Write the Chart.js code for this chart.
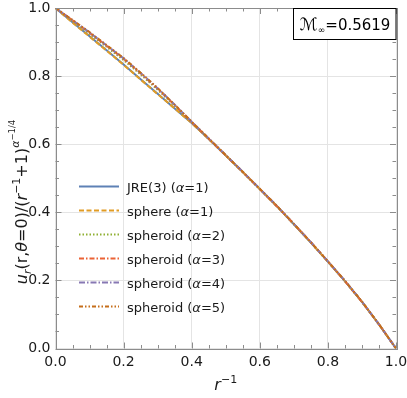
<!DOCTYPE html>
<html><head><meta charset="utf-8">
<script src="https://cdn.jsdelivr.net/npm/chart.js@4.4.1/dist/chart.umd.min.js"></script>
<style>html,body{margin:0;padding:0;background:#fff}#wrap{width:407px;height:398px}</style>
</head><body><div id="wrap"><canvas id="c" width="407" height="398"></canvas></div>
<script>
const xValues = [0,0.05,0.1,0.15,0.2,0.25,0.3,0.35,0.4,0.45,0.5,0.55,0.6,0.65,0.7,0.75,0.8,0.85,0.9,0.95,1.0];
const jre1     = [1,0.958,0.917,0.876,0.834,0.791,0.748,0.705,0.662,0.615,0.567,0.518,0.468,0.418,0.365,0.311,0.255,0.198,0.137,0.071,0];
const sphere1  = [1,0.957,0.916,0.875,0.833,0.790,0.747,0.705,0.662,0.615,0.567,0.518,0.468,0.418,0.365,0.311,0.255,0.198,0.137,0.071,0];
const spheroid2= [1,0.962,0.924,0.886,0.847,0.805,0.760,0.713,0.664,0.616,0.567,0.518,0.468,0.418,0.365,0.311,0.255,0.198,0.137,0.071,0];
const spheroid3= [1,0.964,0.927,0.889,0.851,0.808,0.763,0.715,0.665,0.616,0.567,0.518,0.468,0.418,0.366,0.312,0.256,0.198,0.137,0.071,0];
const spheroid4= [1,0.964,0.928,0.890,0.852,0.809,0.764,0.716,0.666,0.617,0.568,0.519,0.469,0.419,0.366,0.312,0.256,0.199,0.138,0.071,0];
const spheroid5= [1,0.965,0.929,0.891,0.853,0.810,0.765,0.716,0.666,0.617,0.568,0.519,0.469,0.419,0.366,0.312,0.256,0.199,0.138,0.071,0];
const xTicks = [0,0.2,0.4,0.6,0.8,1.0];
const yTicks = [0,0.2,0.4,0.6,0.8,1.0];
const machLabel = "0.5619";

const FONT = "'DejaVu Sans', sans-serif";
const series = [
  {name:[["JRE(3) (",0],["α",1],["=1)",0]], data:jre1, color:'#5E81B5', dash:[]},
  {name:[["sphere (",0],["α",1],["=1)",0]], data:sphere1, color:'#E19C24', dash:[5,2.5]},
  {name:[["spheroid (",0],["α",1],["=2)",0]], data:spheroid2, color:'#8FB032', dash:[1.5,2]},
  {name:[["spheroid (",0],["α",1],["=3)",0]], data:spheroid3, color:'#EB6235', dash:[5,2,1.5,2]},
  {name:[["spheroid (",0],["α",1],["=4)",0]], data:spheroid4, color:'#8778B3', dash:[6,2,1.5,2]},
  {name:[["spheroid (",0],["α",1],["=5)",0]], data:spheroid5, color:'#C56E1A', dash:[4,2,1.5,2,1.5,2]}
];

function drawRich(ctx, segs, x, y, align){
  let w = 0;
  for (const s of segs){ ctx.font = (s[1]?'italic ':'') + s[2]+'px '+FONT; w += ctx.measureText(s[0]).width; }
  let cx = align==='center' ? x - w/2 : x;
  ctx.textAlign='left'; ctx.textBaseline='alphabetic';
  for (const s of segs){ ctx.font = (s[1]?'italic ':'') + s[2]+'px '+FONT; ctx.fillText(s[0], cx, y + (s[3]||0)); cx += ctx.measureText(s[0]).width; }
}

const deco = {
  id:'deco',
  afterDraw(chart){
    const ctx = chart.ctx, a = chart.chartArea, xs = chart.scales.x, ys = chart.scales.y;
    ctx.save();
    ctx.strokeStyle='#8c8c8c'; ctx.lineWidth=1;
    ctx.strokeRect(Math.round(a.left)+0.5, Math.round(a.top)+0.5, Math.round(a.right-a.left), Math.round(a.bottom-a.top));
    for (let i=0;i<=20;i++){
      const v=i*0.05, major = (i%4===0), L = major?6:3.5;
      const px = Math.round(xs.getPixelForValue(v))+0.5, py = Math.round(ys.getPixelForValue(v))+0.5;
      ctx.beginPath();
      ctx.moveTo(px,a.bottom); ctx.lineTo(px,a.bottom-L);
      ctx.moveTo(px,a.top); ctx.lineTo(px,a.top+L);
      ctx.moveTo(a.left,py); ctx.lineTo(a.left+L,py);
      ctx.moveTo(a.right,py); ctx.lineTo(a.right-L,py);
      ctx.stroke();
    }
    ctx.fillStyle='#1a1a1a';
    drawRich(ctx, [["r",1,16,0],["−1",0,11,-7]], (a.left+a.right)/2, 390, 'center');
    ctx.save();
    ctx.translate(27, 202);
    ctx.rotate(-Math.PI/2);
    drawRich(ctx, [["u",1,16,0],["r",1,11,3.5],["(r,",0,16,0],["θ",1,16,0],["=0)/(",0,16,0],["r",1,16,0],["−1",0,11,-7],["+1)",0,16,0],["α",1,11,-8],["−1/4",0,8.5,-12.5]], 0, 0, 'center');
    ctx.restore();
    series.forEach((s,i)=>{
      const y = 186.5 + i*24;
      ctx.strokeStyle=s.color; ctx.lineWidth=1.8; ctx.setLineDash(s.dash);
      ctx.beginPath(); ctx.moveTo(79,y); ctx.lineTo(119,y); ctx.stroke();
      ctx.setLineDash([]);
      ctx.fillStyle='#1a1a1a';
      drawRich(ctx, s.name.map(p=>[p[0],p[1],13,0]), 127, y+5, 'left');
    });
    ctx.fillStyle='#fff'; ctx.fillRect(293.5,8.5,102.5,31);
    ctx.strokeStyle='#000'; ctx.lineWidth=1; ctx.strokeRect(293.5,8.5,102.5,31);
    ctx.fillStyle='#000';
    drawRich(ctx, [["ℳ",1,17,0],["∞",0,9,3],["="+machLabel,0,15,0]], 345, 30, 'center');
    ctx.restore();
  }
};

new Chart(document.getElementById('c'), {
  type:'line',
  data:{ datasets: series.map((s,i)=>({
    label: s.name.map(p=>p[0]).join(''),
    data: xValues.map((x,j)=>({x, y:s.data[j]})),
    order: series.length - i,
    borderColor:s.color, borderWidth:2, borderDash:s.dash, pointRadius:0, fill:false, tension:0
  }))},
  options:{
    responsive:false, animation:false, devicePixelRatio:1,
    layout:{padding:{top:8, right:11, left:0, bottom:0}},
    plugins:{legend:{display:false}, tooltip:{enabled:false}},
    scales:{
      x:{type:'linear', min:0, max:1,
        afterBuildTicks(s){ s.ticks = xTicks.map(v=>({value:v})); },
        afterFit(s){ s.height = 49.5; s.paddingLeft = 0; s.paddingRight = 0; },
        ticks:{ padding:5, color:'#1a1a1a', font:{family:FONT, size:14}, callback:v=>v.toFixed(1), maxRotation:0, autoSkip:false},
        grid:{ color:'#e4e4e4', drawTicks:false }, border:{display:false}},
      y:{type:'linear', min:0, max:1,
        afterBuildTicks(s){ s.ticks = yTicks.map(v=>({value:v})); },
        afterFit(s){ s.width = 55.5; s.paddingTop = 0; s.paddingBottom = 0; },
        ticks:{ padding:5, color:'#1a1a1a', font:{family:FONT, size:14}, callback:v=>v.toFixed(1), autoSkip:false},
        grid:{ color:'#e4e4e4', drawTicks:false }, border:{display:false}}
    }
  },
  plugins:[deco]
});
</script></body></html>
